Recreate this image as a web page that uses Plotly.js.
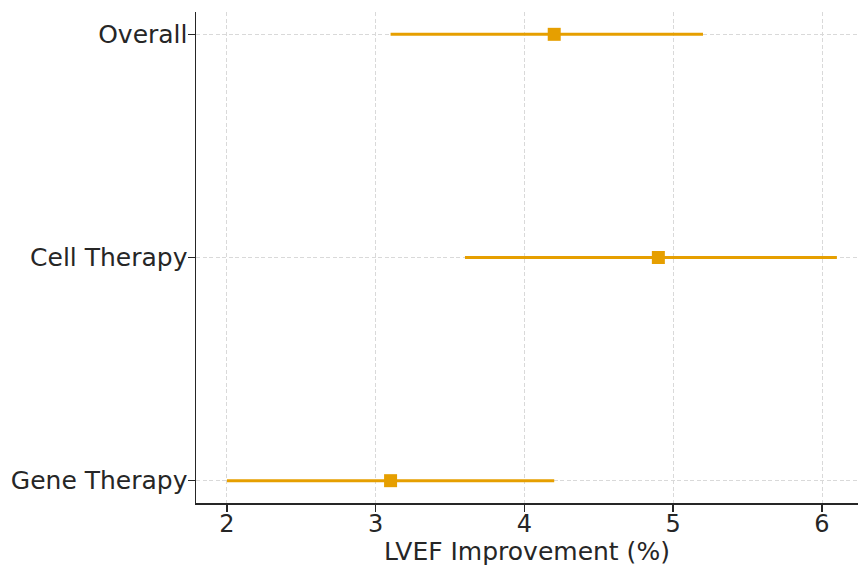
<!DOCTYPE html>
<html>
<head>
<meta charset="utf-8">
<script src="https://cdn.plot.ly/plotly-3.0.1.min.js"></script>
<style>html,body{margin:0;padding:0;background:#fff;}#chart{width:859px;height:566px;}</style>
</head>
<body>
<div id="chart"></div>
<script>
const categories = ["Gene Therapy", "Cell Therapy", "Overall"];
const estimates = [3.1, 4.9, 4.2];
const lowerCI = [2.0, 3.6, 3.1];
const upperCI = [4.2, 6.1, 5.2];
const xTicks = [2, 3, 4, 5, 6];

const trace = {
  type: "scatter",
  mode: "markers",
  x: estimates,
  y: categories,
  marker: {symbol: "square", size: 13, color: "#E69F00"},
  error_x: {
    type: "data",
    symmetric: false,
    array: estimates.map((v, i) => upperCI[i] - v),
    arrayminus: estimates.map((v, i) => v - lowerCI[i]),
    color: "#E69F00",
    thickness: 3,
    width: 0
  },
  hoverinfo: "x+y"
};

const layout = {
  width: 859, height: 566,
  margin: {l: 196, r: 1, t: 12, b: 63},
  paper_bgcolor: "#fff", plot_bgcolor: "#fff",
  font: {family: "DejaVu Sans", size: 25, color: "#262626"},
  showlegend: false,
  xaxis: {
    range: [1.792, 6.242],
    tickvals: xTicks,
    ticktext: xTicks.map(String),
    showgrid: true, gridcolor: "#d9d9d9", griddash: "4px,2.5px", gridwidth: 1,
    zeroline: false,
    showline: true, linecolor: "#262626", linewidth: 1.5,
    ticks: "outside", ticklen: 7, tickwidth: 1.5, tickcolor: "#262626",
    ticklabelstandoff: -8,
    tickfont: {size: 24, color: "#262626"},
    title: {text: "LVEF Improvement (%)", font: {size: 25, color: "#262626"}, standoff: 2}
  },
  yaxis: {
    type: "category",
    categoryorder: "array", categoryarray: categories,
    range: [-0.1, 2.1],
    showgrid: true, gridcolor: "#d9d9d9", griddash: "4px,2.5px", gridwidth: 1,
    zeroline: false,
    showline: true, linecolor: "#262626", linewidth: 1.5,
    ticks: "outside", ticklen: 7, tickwidth: 1.5, tickcolor: "#262626",
    ticklabelstandoff: -5,
    tickfont: {size: 25, color: "#262626"}
  }
};

Plotly.newPlot("chart", [trace], layout, {displayModeBar: false, staticPlot: true});
</script>
</body>
</html>
